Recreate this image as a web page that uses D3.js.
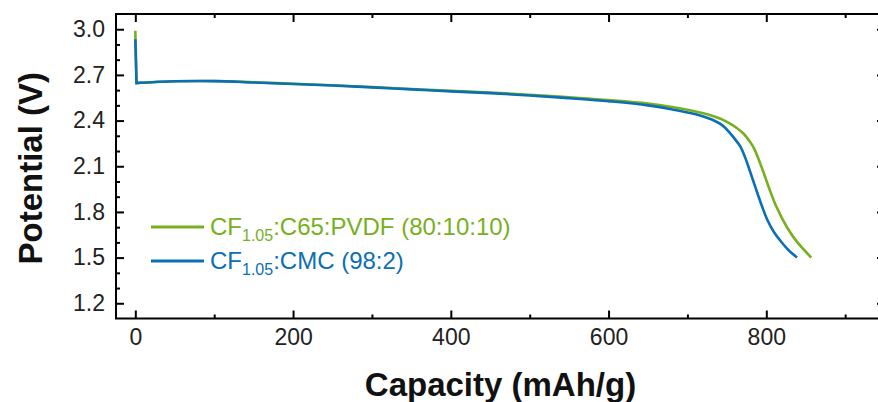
<!DOCTYPE html>
<html>
<head>
<meta charset="utf-8">
<script src="https://cdn.jsdelivr.net/npm/d3@7"></script>
<style>
  html, body { margin: 0; padding: 0; background: #fff; }
  svg { display: block; font-family: Arial, "Liberation Sans", Helvetica, sans-serif; }
</style>
</head>
<body>
<svg id="chart" width="878" height="402"></svg>
<script>
// Discharge profiles: capacity (mAh/g) vs potential (V)
const pvdfCapacity = [0, 1.5, 20, 50, 100, 150, 200, 250, 300, 350, 400, 450, 500, 550, 600, 650, 690, 720, 733, 745, 754, 763, 771, 778, 784, 794, 803, 813, 826, 839, 857];
const pvdfPotential = [2.99, 2.648, 2.652, 2.658, 2.66, 2.652, 2.642, 2.632, 2.62, 2.607, 2.595, 2.584, 2.57, 2.553, 2.535, 2.512, 2.481, 2.448, 2.428, 2.405, 2.38, 2.35, 2.315, 2.27, 2.222, 2.095, 1.964, 1.832, 1.701, 1.603, 1.5];

const cmcCapacity = [0, 1.5, 20, 50, 100, 150, 200, 250, 300, 350, 400, 450, 500, 550, 600, 650, 691, 715, 725, 733, 744, 754, 760, 767, 773, 777.5, 786, 794, 802, 810, 818, 828, 839];
const cmcPotential = [2.934, 2.646, 2.652, 2.658, 2.659, 2.65, 2.64, 2.63, 2.618, 2.605, 2.592, 2.58, 2.565, 2.547, 2.527, 2.5, 2.463, 2.435, 2.418, 2.402, 2.37, 2.318, 2.28, 2.23, 2.16, 2.095, 1.964, 1.845, 1.74, 1.665, 1.61, 1.55, 1.5];

const xMajorTicks = [0, 200, 400, 600, 800];
const xMinorTicks = [100, 300, 500, 700, 900];
const yMajorTicks = [1.2, 1.5, 1.8, 2.1, 2.4, 2.7, 3.0];
const yMinorTicks = [1.3, 1.4, 1.6, 1.7, 1.9, 2.0, 2.2, 2.3, 2.5, 2.6, 2.8, 2.9];

const seriesColors = ["#76b01e", "#0b6fb3"];

const svg = d3.select("#chart");
const plot = { left: 116, right: 885, top: 14, bottom: 318.5 };

const x = d3.scaleLinear().domain([-24.5, 950.5]).range([plot.left, plot.right]);
const y = d3.scaleLinear().domain([1.1, 3.1]).range([plot.bottom, plot.top]);

// curves: the initial IR drop is a straight segment, the rest is smoothed
const smooth = d3.line().x(d => x(d[0])).y(d => y(d[1])).curve(d3.curveCatmullRom.alpha(0.5));
function profilePath(data) {
  const [c0, v0] = data[0];
  return `M${x(c0)},${y(v0)}` + smooth(data.slice(1)).replace(/^M/, "L");
}
const pvdfData = d3.zip(pvdfCapacity, pvdfPotential);
const cmcData = d3.zip(cmcCapacity, cmcPotential);

svg.append("path").attr("d", profilePath(pvdfData))
  .attr("fill", "none").attr("stroke", seriesColors[0]).attr("stroke-width", 2.6);
svg.append("path").attr("d", profilePath(cmcData))
  .attr("fill", "none").attr("stroke", seriesColors[1]).attr("stroke-width", 2.6);

// axes with inward ticks
const axisStyle = g => {
  g.select(".domain").remove();
  g.selectAll("line").attr("stroke", "#000").attr("stroke-width", 2);
  g.selectAll("text").attr("font-size", 23).attr("fill", "#222");
};

svg.append("g").attr("transform", `translate(0,${plot.bottom})`)
  .call(d3.axisBottom(x).tickValues(xMajorTicks).tickSize(-8).tickPadding(10).tickFormat(d3.format("d")))
  .call(axisStyle);
svg.append("g").attr("transform", `translate(0,${plot.bottom})`)
  .call(d3.axisBottom(x).tickValues(xMinorTicks).tickSize(-4).tickFormat(""))
  .call(axisStyle);
svg.append("g").attr("transform", `translate(0,${plot.top})`)
  .call(d3.axisTop(x).tickValues(xMajorTicks).tickSize(-8).tickFormat(""))
  .call(axisStyle);
svg.append("g").attr("transform", `translate(0,${plot.top})`)
  .call(d3.axisTop(x).tickValues(xMinorTicks).tickSize(-4).tickFormat(""))
  .call(axisStyle);

svg.append("g").attr("transform", `translate(${plot.left},0)`)
  .call(d3.axisLeft(y).tickValues(yMajorTicks).tickSize(-8).tickPadding(11).tickFormat(d3.format(".1f")))
  .call(axisStyle);
svg.append("g").attr("transform", `translate(${plot.left},0)`)
  .call(d3.axisLeft(y).tickValues(yMinorTicks).tickSize(-4).tickFormat(""))
  .call(axisStyle);
svg.append("g").attr("transform", `translate(${plot.right},0)`)
  .call(d3.axisRight(y).tickValues(yMajorTicks).tickSize(-8).tickFormat(""))
  .call(axisStyle);
svg.append("g").attr("transform", `translate(${plot.right},0)`)
  .call(d3.axisRight(y).tickValues(yMinorTicks).tickSize(-4).tickFormat(""))
  .call(axisStyle);

// frame
svg.append("rect")
  .attr("x", plot.left).attr("y", plot.top)
  .attr("width", plot.right - plot.left).attr("height", plot.bottom - plot.top)
  .attr("fill", "none").attr("stroke", "#000").attr("stroke-width", 2);

// axis titles
svg.append("text")
  .attr("x", (plot.left + plot.right) / 2).attr("y", 396)
  .attr("text-anchor", "middle").attr("font-size", 33).attr("font-weight", "bold").attr("fill", "#111")
  .text("Capacity (mAh/g)");
svg.append("text")
  .attr("transform", `translate(42,${(plot.top + plot.bottom) / 2 + 2}) rotate(-90)`)
  .attr("text-anchor", "middle").attr("font-size", 33).attr("font-weight", "bold").attr("fill", "#111")
  .text("Potential (V)");

// legend
const legendItems = [
  { color: seriesColors[0], lineY: 227, base: 234.5, tail: ":C65:PVDF (80:10:10)" },
  { color: seriesColors[1], lineY: 261, base: 268.5, tail: ":CMC (98:2)" }
];
legendItems.forEach(item => {
  svg.append("line")
    .attr("x1", 151).attr("x2", 204).attr("y1", item.lineY).attr("y2", item.lineY)
    .attr("stroke", item.color).attr("stroke-width", 3);
  const t = svg.append("text").attr("x", 210).attr("y", item.base)
    .attr("font-size", 24).attr("fill", item.color);
  t.append("tspan").text("CF");
  t.append("tspan").attr("font-size", 16).attr("dy", 6).text("1.05");
  t.append("tspan").attr("dy", -6).text(item.tail);
});
</script>
</body>
</html>
